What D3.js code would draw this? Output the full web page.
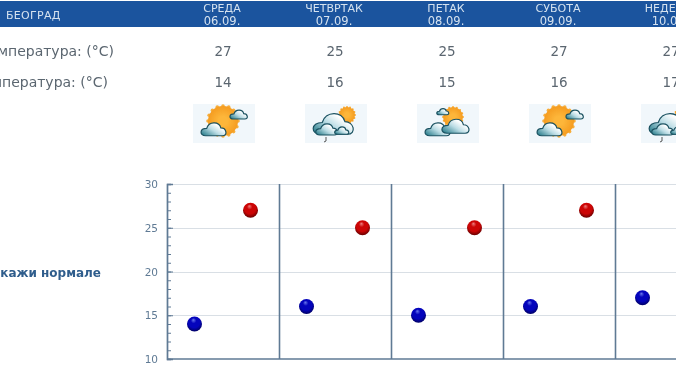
<!DOCTYPE html>
<html>
<head>
<meta charset="utf-8">
<script src="https://cdn.jsdelivr.net/npm/d3@7"></script>
<style>
  html, body { margin: 0; padding: 0; background: #fff; overflow: hidden; }
  svg { display: block; font-family: "DejaVu Sans", sans-serif; filter: blur(0.45px); }
</style>
</head>
<body>
<div class="canvas"></div>
<script>
const city = 'БЕОГРАД';
const days = ['СРЕДА', 'ЧЕТВРТАК', 'ПЕТАК', 'СУБОТА', 'НЕДЕЉА'];
const dates = ['06.09.', '07.09.', '08.09.', '09.09.', '10.09.'];
const maxTemps = [27, 25, 25, 27, 27];
const minTemps = [14, 16, 15, 16, 17];
const icons = ['sunny', 'rain', 'cloudy', 'sunny', 'rain'];
const rowLabels = ['Максимална температура: (°C)', 'Минимална температура: (°C)'];
const normalsLabel = 'Покажи нормале';
const yMajor = [10, 15, 20, 25, 30];
const yMinor = d3.range(10, 31);

const dims = { width: 676, height: 380 };
const plot = { left: 167, top: 184, bottom: 359, band: 112 };
const textBlue = '#2f5d8c';
const textGray = '#5b6670';
const axisColor = '#5f7a94';

const svg = d3.select('.canvas')
  .append('svg')
  .attr('width', dims.width)
  .attr('height', dims.height);

const defs = svg.append('defs');

// ball gradients
const ball = (id, light, mid, dark) => {
  const g = defs.append('radialGradient').attr('id', id)
    .attr('cx', '0.5').attr('cy', '0.42').attr('r', '0.6')
    .attr('fx', '0.42').attr('fy', '0.22');
  g.append('stop').attr('offset', '0').attr('stop-color', light);
  g.append('stop').attr('offset', '0.3').attr('stop-color', mid);
  g.append('stop').attr('offset', '0.65').attr('stop-color', mid);
  g.append('stop').attr('offset', '1').attr('stop-color', dark);
};
ball('ballRed', '#ee8080', '#cc0505', '#5e0000');
ball('ballBlue', '#6a78ee', '#0404bc', '#00005c');

const sunGrad = defs.append('radialGradient').attr('id', 'sunGrad');
sunGrad.append('stop').attr('offset', '0.3').attr('stop-color', '#fdb63a');
sunGrad.append('stop').attr('offset', '1').attr('stop-color', '#f59c20');

const cloudGrad = defs.append('linearGradient').attr('id', 'cloudGrad')
  .attr('x1', '0').attr('y1', '1').attr('x2', '1').attr('y2', '0.2');
cloudGrad.append('stop').attr('offset', '0').attr('stop-color', '#15707f');
cloudGrad.append('stop').attr('offset', '0.5').attr('stop-color', '#bcdde5');
cloudGrad.append('stop').attr('offset', '0.8').attr('stop-color', '#ffffff');

// scales
const x = d3.scaleBand()
  .domain(days)
  .range([plot.left, plot.left + plot.band * days.length]);

const y = d3.scaleLinear()
  .domain([10, 30])
  .range([plot.bottom, plot.top]);

// header band
svg.append('rect')
  .attr('x', 0).attr('y', 1)
  .attr('width', dims.width).attr('height', 26)
  .attr('fill', '#1b549e');

svg.append('text')
  .attr('x', 6).attr('y', 19)
  .attr('fill', '#d5e2ef')
  .attr('font-size', 11)
  .attr('letter-spacing', 0.3)
  .text(city);

const center = d => x(d) + x.bandwidth() / 2 - 1;

svg.append('g').selectAll('text')
  .data(days)
  .enter().append('text')
    .attr('x', center)
    .attr('y', 12)
    .attr('text-anchor', 'middle')
    .attr('fill', '#d5e2ef')
    .attr('font-size', 11)
    .text(d => d);

svg.append('g').selectAll('text')
  .data(dates)
  .enter().append('text')
    .attr('x', (d, i) => center(days[i]))
    .attr('y', 25)
    .attr('text-anchor', 'middle')
    .attr('fill', '#d5e2ef')
    .attr('font-size', 11.5)
    .text(d => d);

// temperature rows
const rows = [
  { label: rowLabels[0], values: maxTemps, y: 56, end: 114 },
  { label: rowLabels[1], values: minTemps, y: 87, end: 108 }
];

rows.forEach(row => {
  svg.append('text')
    .attr('x', row.end).attr('y', row.y)
    .attr('text-anchor', 'end')
    .attr('fill', textGray)
    .attr('font-size', 14)
    .text(row.label);

  svg.append('g').selectAll('text')
    .data(row.values)
    .enter().append('text')
      .attr('x', (d, i) => center(days[i]) + 1)
      .attr('y', row.y)
      .attr('text-anchor', 'middle')
      .attr('fill', textGray)
      .attr('font-size', 13.5)
      .text(d => d);
});

svg.append('text')
  .attr('x', 101).attr('y', 277)
  .attr('text-anchor', 'end')
  .attr('fill', textBlue)
  .attr('font-size', 12)
  .attr('font-weight', 'bold')
  .text(normalsLabel);

// weather icons
const cloudPath = 'M-16,11 C-28,11 -28,-3 -14,-3 C-10,-17 10,-17 13,-4 C24,-4 27,11 16,11 Z';

const drawCloud = (g, cx, cy, w) => {
  g.append('path')
    .attr('d', cloudPath)
    .attr('transform', `translate(${cx},${cy}) scale(${w / 44})`)
    .attr('fill', 'url(#cloudGrad)')
    .attr('stroke', '#1b5261')
    .attr('stroke-width', 1.2)
    .attr('vector-effect', 'non-scaling-stroke');
};

const drawSun = (g, cx, cy, r) => {
  const rays = d3.range(0, 360, 22.5);
  g.append('g').selectAll('circle')
    .data(rays)
    .enter().append('circle')
      .attr('cx', d => cx + r * Math.cos(d * Math.PI / 180))
      .attr('cy', d => cy + r * Math.sin(d * Math.PI / 180))
      .attr('r', r > 12 ? 1.8 : 1)
      .attr('fill', '#f7ad3a');
  g.append('circle')
    .attr('cx', cx).attr('cy', cy).attr('r', r)
    .attr('fill', 'url(#sunGrad)');
};

const drawIcon = {
  sunny: g => {
    drawSun(g, 30, 17, 15);
    drawCloud(g, 46, 11, 16);
    drawCloud(g, 21, 26, 23);
  },
  rain: g => {
    drawSun(g, 42, 11, 8);
    drawCloud(g, 29, 21, 37);
    drawCloud(g, 22, 26, 20);
    drawCloud(g, 37, 27, 13);
    g.append('path')
      .attr('d', 'M21,33 L21,37 L19,38')
      .attr('fill', 'none')
      .attr('stroke', '#555')
      .attr('stroke-width', 1);
  },
  cloudy: g => {
    drawSun(g, 36, 13, 10);
    drawCloud(g, 26, 8, 11);
    drawCloud(g, 21, 26, 23);
    drawCloud(g, 39, 23, 25);
  }
};

const iconGroups = svg.append('g').selectAll('g')
  .data(icons)
  .enter().append('g')
    .attr('transform', (d, i) => `translate(${x(days[i]) + 26},104)`);

iconGroups.append('rect')
  .attr('width', 62).attr('height', 39)
  .attr('fill', '#f1f7fb');

iconGroups.each(function(d) { drawIcon[d](d3.select(this)); });

// grid lines
svg.append('g').selectAll('line')
  .data(yMajor.slice(1))
  .enter().append('line')
    .attr('x1', plot.left).attr('x2', dims.width)
    .attr('y1', d => Math.round(y(d)) + 0.5)
    .attr('y2', d => Math.round(y(d)) + 0.5)
    .attr('stroke', '#d9dfe5');

// y axis, ticks point inward
const minorAxis = d3.axisRight(y)
  .tickValues(yMinor)
  .tickSize(4)
  .tickFormat('');

const majorAxis = d3.axisRight(y)
  .tickValues(yMajor)
  .tickSize(6)
  .tickFormat('');

svg.append('g').attr('transform', `translate(${plot.left},0)`).call(minorAxis);
svg.append('g').attr('transform', `translate(${plot.left},0)`).call(majorAxis);
svg.selectAll('.domain, .tick line').attr('stroke', axisColor);
svg.selectAll('.domain').attr('stroke-width', 1.4);

svg.append('g').selectAll('text')
  .data(yMajor)
  .enter().append('text')
    .attr('x', 158)
    .attr('y', d => y(d) + 4)
    .attr('text-anchor', 'end')
    .attr('fill', axisColor)
    .attr('font-size', 10.5)
    .text(d => d);

// baseline and day separators
svg.append('line')
  .attr('x1', plot.left).attr('x2', dims.width)
  .attr('y1', plot.bottom).attr('y2', plot.bottom)
  .attr('stroke', axisColor)
  .attr('stroke-width', 1.6);

svg.append('g').selectAll('line')
  .data(days)
  .enter().append('line')
    .attr('x1', d => x(d) + x.bandwidth() + 0.5)
    .attr('x2', d => x(d) + x.bandwidth() + 0.5)
    .attr('y1', plot.top)
    .attr('y2', plot.bottom)
    .attr('stroke', axisColor)
    .attr('stroke-width', 1.6);

// points
svg.append('g').selectAll('circle')
  .data(minTemps)
  .enter().append('circle')
    .attr('cx', (d, i) => x(days[i]) + x.bandwidth() / 4 - 0.5)
    .attr('cy', d => y(d))
    .attr('r', 7.5)
    .attr('fill', 'url(#ballBlue)');

svg.append('g').selectAll('circle')
  .data(maxTemps)
  .enter().append('circle')
    .attr('cx', (d, i) => x(days[i]) + x.bandwidth() * 3 / 4 - 0.5)
    .attr('cy', d => y(d))
    .attr('r', 7.5)
    .attr('fill', 'url(#ballRed)');
</script>
</body>
</html>
